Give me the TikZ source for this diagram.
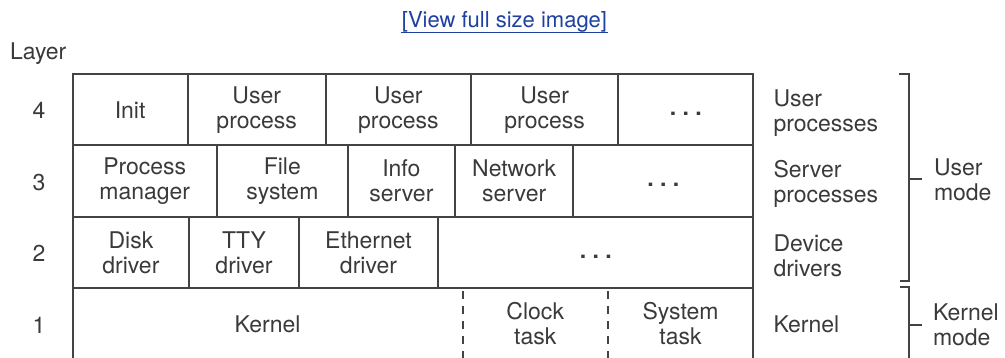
\documentclass[tikz,border=0pt]{standalone}
\usepackage{fontspec}
\setmainfont{TeX Gyre Heros}
\usepackage{tikz}
\definecolor{inkgray}{HTML}{3A3A3A}
\definecolor{linegray}{HTML}{434343}
\definecolor{linkblue}{HTML}{1E40A0}
\newcommand{\threedots}{\vphantom{Ag}\textbf{.\ .\ .}}

\begin{document}
\begin{tikzpicture}
  [
  x=1pt, y=-1pt,
  font=\fontsize{23}{25}\selectfont,
  line width=2pt,
  cell/.style={rectangle, draw=linegray, inner sep=0pt, outer sep=0pt, minimum height=71.4pt, align=center, text=inkgray},
  bare/.style={rectangle, inner sep=0pt, outer sep=0pt, minimum height=71.4pt, align=center, text=inkgray},
  sidelabel/.style={anchor=west, inner sep=0pt, align=left, text=inkgray},
  layernum/.style={inner sep=0pt, text=inkgray},
  bracket/.style={draw=linegray, line width=2pt},
  ]

\useasboundingbox (0,0) rectangle (1005,358);

\node[text=linkblue, font=\fontsize{22}{24}\selectfont, inner sep=0pt, anchor=base] (link) at (504.5,27.3) {[View full size image]};
\draw[draw=linkblue, line width=1.2pt] ([yshift=0.6pt]link.south west) -- ([yshift=0.6pt]link.south east);

\node[layernum, anchor=base west] (layer) at (9,60) {Layer};
\node[layernum] (n4) at (39,110.7) {4};
\node[layernum] (n3) at (39,182.1) {3};
\node[layernum] (n2) at (39,253.5) {2};
\node[layernum] (n1) at (39,324.9) {1};

\node[cell, minimum width=115.2pt] (init) at (130.1,109.7) {Init};
\node[cell, minimum width=138pt] (userA) at (256.7,109.7) {User\\process};
\node[cell, minimum width=145.3pt] (userB) at (398.35,109.7) {User\\process};
\node[cell, minimum width=147.3pt] (userC) at (544.65,109.7) {User\\process};
\node[cell, minimum width=135pt] (udots) at (685.8,109.7) {\threedots};

\node[cell, minimum width=144.5pt] (pm) at (144.75,181.1) {Process\\manager};
\node[cell, minimum width=130.7pt] (fs) at (282.35,181.1) {File\\system};
\node[cell, minimum width=107.3pt] (info) at (401.35,181.1) {Info\\server};
\node[cell, minimum width=118.3pt] (net) at (514.15,181.1) {Network\\server};
\node[cell, minimum width=180pt] (sdots) at (663.3,181.1) {\threedots};

\node[cell, minimum width=116.8pt] (disk) at (130.9,252.5) {Disk\\driver};
\node[cell, minimum width=109.4pt] (tty) at (244,252.5) {TTY\\driver};
\node[cell, minimum width=139.6pt] (eth) at (368.5,252.5) {Ethernet\\driver};
\node[cell, minimum width=315pt] (ddots) at (595.8,252.5) {\threedots};

\node[bare, minimum width=390.2pt] (kern) at (267.6,323.9) {Kernel};
\node[bare, minimum width=145pt] (clock) at (535.2,323.9) {Clock\\task};
\node[bare, minimum width=145.6pt] (systask) at (680.5,323.9) {System\\task};
\draw[draw=linegray] (kern.north west) rectangle (systask.south east);
\draw[draw=linegray, dash pattern=on 8pt off 7pt, dash phase=12pt] (kern.north east) -- (kern.south east);
\draw[draw=linegray, dash pattern=on 8pt off 7pt, dash phase=12pt] (clock.north east) -- (clock.south east);

\node[sidelabel] (lbuser) at (772.5,112.7) {User\\processes};
\node[sidelabel] (lbserver) at (772.5,184.1) {Server\\processes};
\node[sidelabel] (lbdev) at (772.5,255.5) {Device\\drivers};
\node[sidelabel] (lbkern) at (772.5,324.5) {Kernel};

\draw[bracket] (899,74.3) -- (909.3,74.3) -- (909.3,281) -- (900,281);
\draw[bracket] (900,287.3) -- (909.3,287.3) -- (909.3,362);
\node[sidelabel] (umode) at (933,179.5) {User\\mode};
\node[sidelabel] (kmode) at (932,325) {Kernel\\mode};
\coordinate (ubar) at (909.3,179.5);
\coordinate (kbar) at (909.3,325);
\draw[bracket] (ubar) -- ([xshift=-11pt]umode.west);
\draw[bracket] (kbar) -- ([xshift=-10pt]kmode.west);
\end{tikzpicture}
\end{document}
